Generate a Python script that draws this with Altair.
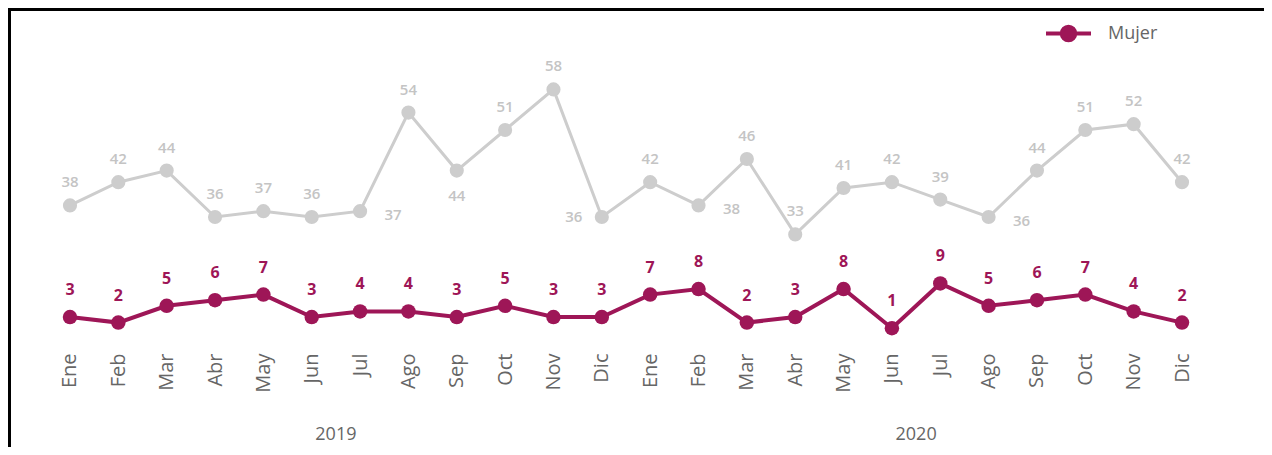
import altair as alt
import pandas as pd

months = ["Ene", "Feb", "Mar", "Abr", "May", "Jun", "Jul", "Ago", "Sep", "Oct", "Nov", "Dic"]
years = ["2019", "2020"]
hombre = [38, 42, 44, 36, 37, 36, 37, 54, 44, 51, 58, 36,
          42, 38, 46, 33, 41, 42, 39, 36, 44, 51, 52, 42]
mujer = [3, 2, 5, 6, 7, 3, 4, 4, 3, 5, 3, 3,
         7, 8, 2, 3, 8, 1, 9, 5, 6, 7, 4, 2]

rows = []
for i in range(len(mujer)):
    rows.append({"i": i, "mes": months[i % 12], "anio": years[i // 12],
                 "hombre": hombre[i], "mujer": mujer[i], "serie": "Mujer"})
df = pd.DataFrame(rows)

MAROON = "#9e1657"
GRAY_LINE = "#cdcdcd"
GRAY_TEXT = "#c4c4c4"
AXIS_TEXT = "#666666"
FONT = "Open Sans"

W, H = 1256, 337

label_expr = "[" + ",".join("'%s'" % m for m in months) + "][datum.value % 12]"
x_scale = alt.Scale(domain=[-1.282, 24.696], nice=False, zero=False)
x_axis = alt.Axis(values=list(range(24)), labelExpr=label_expr, labelAngle=-90,
                  domain=False, ticks=False, grid=False, labelPadding=8,
                  labelFontSize=20, labelColor=AXIS_TEXT, labelFont=FONT,
                  labelOverlap=False, labelFlush=False, title=None)
x_enc = alt.X("i:Q", scale=x_scale, axis=x_axis)

gray_scale = alt.Scale(domain=[13.93, 72.03], nice=False, zero=False)
mujer_scale = alt.Scale(domain=[-2.0, 58.2], nice=False, zero=False)

base = alt.Chart(df)

gray_line = base.mark_line(color=GRAY_LINE, strokeWidth=3).encode(
    x=x_enc, y=alt.Y("hombre:Q", scale=gray_scale, axis=None))
gray_pts = base.mark_point(filled=True, shape="circle", size=200, color=GRAY_LINE, opacity=1).encode(
    x=x_enc, y=alt.Y("hombre:Q", scale=gray_scale, axis=None))

right_idx = [6, 13, 19]
below_idx = [8]
left_idx = [11]
special = right_idx + below_idx + left_idx

def gray_text(filter_expr, dx, dy):
    return base.mark_text(font=FONT, fontSize=15, fontWeight=600, color=GRAY_TEXT,
                          dx=dx, dy=dy, baseline="middle").encode(
        x=x_enc, y=alt.Y("hombre:Q", scale=gray_scale, axis=None),
        text="hombre:Q").transform_filter(filter_expr)

gt_above = gray_text("indexof(%s, datum.i) < 0" % special, 0, -23)
gt_right = gray_text("indexof(%s, datum.i) >= 0" % right_idx, 33, 4)
gt_below = gray_text("indexof(%s, datum.i) >= 0" % below_idx, 0, 25)
gt_left = gray_text("indexof(%s, datum.i) >= 0" % left_idx, -28, 0)

mujer_line = base.mark_line(strokeWidth=4).encode(
    x=x_enc,
    y=alt.Y("mujer:Q", scale=mujer_scale, axis=None),
    color=alt.Color("serie:N", scale=alt.Scale(domain=["Mujer"], range=[MAROON]),
                    legend=alt.Legend(orient="none", legendX=1036, legendY=1, title=None,
                                      symbolType="M-1,0L1,0M-0.3,0A0.3,0.3 0 1,0 0.3,0A0.3,0.3 0 1,0 -0.3,0",
                                      symbolSize=2025, symbolStrokeWidth=4,
                                      symbolFillColor=MAROON, symbolStrokeColor=MAROON,
                                      labelFont=FONT, labelFontSize=18, labelColor=AXIS_TEXT,
                                      labelOffset=15, padding=0)),
)
mujer_pts = base.mark_circle(size=210, color=MAROON, opacity=1).encode(
    x=x_enc, y=alt.Y("mujer:Q", scale=mujer_scale, axis=None))
mujer_txt = base.mark_text(font=FONT, fontSize=16, fontWeight="bold", color=MAROON,
                           dy=-27, baseline="middle").encode(
    x=x_enc, y=alt.Y("mujer:Q", scale=mujer_scale, axis=None), text="mujer:Q")

year_txt = base.transform_aggregate(
    i="mean(i)", groupby=["anio"]
).mark_text(font=FONT, fontSize=18, color=AXIS_TEXT, baseline="middle").encode(
    x=x_enc, y=alt.value(427), text="anio:N")

frame_left = base.mark_rule(color="black", strokeWidth=3).encode(
    x=alt.value(1), y=alt.value(0), y2=alt.value(439))
frame_top = base.mark_rule(color="black", strokeWidth=3).encode(
    y=alt.value(1), x=alt.value(0), x2=alt.value(W))

chart = alt.layer(
    gray_line, gray_pts, gt_above, gt_right, gt_below, gt_left,
    mujer_line, mujer_pts, mujer_txt, year_txt, frame_left, frame_top
).resolve_scale(y="independent").properties(
    width=W, height=H,
    autosize=alt.AutoSizeParams(type="none"),
    padding={"left": 0, "right": 0, "top": 0, "bottom": 102},
    background="white",
).configure_view(stroke=None)

chart.save("out.html", embed_options={"renderer": "svg", "actions": False})
